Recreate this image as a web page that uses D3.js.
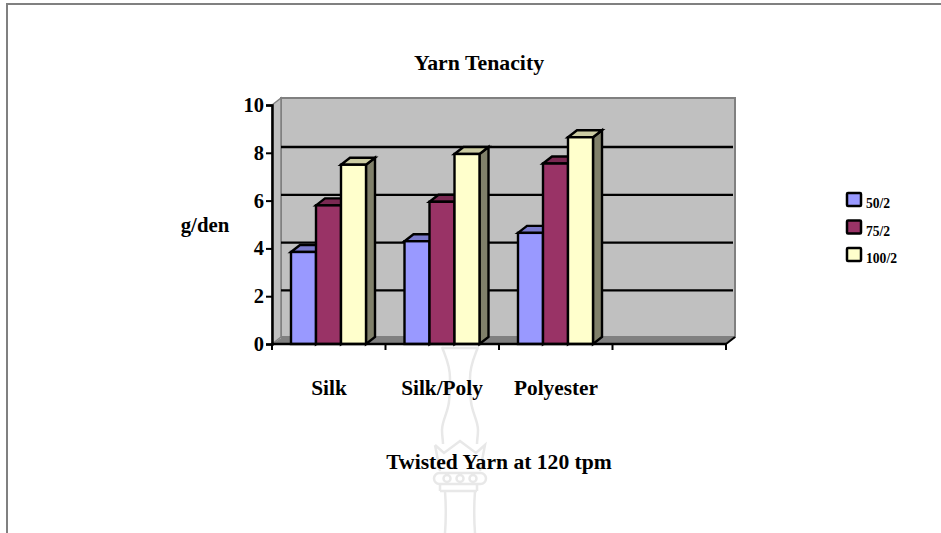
<!DOCTYPE html>
<html><head><meta charset="utf-8">
<script src="https://cdn.jsdelivr.net/npm/d3@7/dist/d3.min.js"></script>
<style>html,body{margin:0;padding:0;background:#fff}svg{display:block}text{font-family:"Liberation Serif",serif;font-weight:bold;fill:#000}</style>
</head><body><div id="c"></div>
<script>
const categories=["Silk","Silk/Poly","Polyester",""];
const seriesNames=["50/2","75/2","100/2"];
const values502=[3.85,4.3,4.65];
const values752=[5.8,5.95,7.55];
const values1002=[7.5,7.95,8.65];
const seriesValues=[values502,values752,values1002];
const yTicks=[0,2,4,6,8,10];
const colors=["#9999ff","#993366","#ffffcc"];
const topColors=["#7a7acc","#7a2952","#ccccA3"];
const sideColor="#80806a";

const svg=d3.select("#c").append("svg").attr("width",941).attr("height",533);
const dx=9,dy=7;
const x=d3.scaleBand().domain(categories).range([272,726]);
const y=d3.scaleLinear().domain([0,10]).range([344,105]);
const inner=d3.scaleBand().domain(d3.range(3)).range([19,94]);

// page border
svg.append("path").attr("d","M7,533V4H941").attr("fill","none").attr("stroke","#808080").attr("stroke-width",2);

// watermark
const wm=svg.append("g").attr("fill","none").attr("stroke","#e8e8e8").attr("stroke-width",2.5);
wm.append("path").attr("d","M442,347C446,358 450,365 450,378C450,392 450,400 448,407C446,416 442,422 442,430C442,436 443,440 443,444M478,347C474,358 470,365 470,378C470,392 470,400 472,407C474,416 478,422 478,430C478,436 477,440 477,444");
wm.append("path").attr("d","M442,348H478");
wm.append("path").attr("d","M435,445L444,453L460,441L476,453L485,445L480,471M440,471L435,445");
wm.append("rect").attr("x",434).attr("y",473).attr("width",52).attr("height",11).attr("rx",5.5);
wm.append("path").attr("d","M440,491H477M440,484V491M477,484V491M445,491C446,505 446,520 445,533M475,491C474,505 474,520 475,533");
wm.selectAll("circle").data([447,460,473]).join("circle").attr("cx",d=>d).attr("cy",478.5).attr("r",3.5);

// back wall, side wall and floor
svg.append("path").attr("d",`M${x.range()[0]+dx},${y(0)-dy}V${y(10)-dy}H${x.range()[1]+dx}V${y(0)-dy}Z`).attr("fill","#c0c0c0").attr("stroke","#808080").attr("stroke-width",2);
svg.append("path").attr("d",`M${x.range()[0]},${y(0)}V${y(10)}L${x.range()[0]+dx},${y(10)-dy}V${y(0)-dy}Z`).attr("fill","#c0c0c0").attr("stroke","#808080").attr("stroke-width",1.5);
svg.append("path").attr("d",`M${x.range()[0]},${y(0)}L${x.range()[0]+dx},${y(0)-dy+1}H${x.range()[1]+dx}L${x.range()[1]},${y(0)}Z`).attr("fill","#808080");

// gridlines on back wall
svg.selectAll(".grid").data(yTicks.filter(d=>d>0&&d<10)).join("line")
 .attr("x1",x.range()[0]+dx).attr("x2",x.range()[1]+dx-2)
 .attr("y1",d=>y(d)-dy+1.2).attr("y2",d=>y(d)-dy+1.2).attr("stroke","#000").attr("stroke-width",2.3);

// bars
categories.slice(0,3).forEach((c,i)=>{
 [0,1,2].forEach(s=>{
  const v=seriesValues[s][i];
  const x0=x(c)+inner(s),w=inner.bandwidth(),t=y(v),b=y(0);
  const g=svg.append("g").attr("stroke","#000").attr("stroke-width",2.4).attr("stroke-linejoin","miter");
  g.append("path").attr("d",`M${x0+w},${b}L${x0+w+dx},${b-dy}V${t-dy}L${x0+w},${t}Z`).attr("fill",s==2?sideColor:topColors[s]);
  g.append("path").attr("d",`M${x0},${t}L${x0+dx},${t-dy}H${x0+w+dx}L${x0+w},${t}Z`).attr("fill",topColors[s]);
  g.append("rect").attr("x",x0).attr("y",t).attr("width",w).attr("height",b-t).attr("fill",colors[s]);
 });
});

// axes
const ya=svg.append("g").attr("transform","translate(272,0)").call(d3.axisLeft(y).tickValues(yTicks).tickSize(6).tickPadding(2));
ya.select(".domain").attr("stroke","#000").attr("stroke-width",2.5);
ya.selectAll(".tick line").attr("stroke","#000").attr("stroke-width",2);
ya.selectAll("text").style("font-size","20.5px").style("font-family","Liberation Serif").style("font-weight","bold");
const xa=svg.append("g");
xa.append("line").attr("x1",271).attr("x2",x.range()[1]).attr("y1",y(0)).attr("y2",y(0)).attr("stroke","#000").attr("stroke-width",2.5);
xa.selectAll("line.t").data(d3.range(5)).join("line").attr("class","t")
 .attr("x1",d=>272+d*x.step()).attr("x2",d=>272+d*x.step()).attr("y1",y(0)).attr("y2",y(0)+6).attr("stroke","#000").attr("stroke-width",2);
svg.append("line").attr("x1",x.range()[1]).attr("y1",y(0)).attr("x2",x.range()[1]+dx).attr("y2",y(0)-dy).attr("stroke","#000").attr("stroke-width",2);

// category labels
const labelX=[329,442,556];
svg.selectAll(".cat").data(categories.slice(0,3)).join("text").attr("class","cat")
 .attr("x",(d,i)=>labelX[i]).attr("y",395).attr("text-anchor","middle").style("font-size","21.3px").text(d=>d);

// titles
svg.append("text").attr("x",479).attr("y",70).attr("text-anchor","middle").style("font-size","21.8px").text("Yarn Tenacity");
svg.append("text").attr("x",205).attr("y",232).attr("text-anchor","middle").style("font-size","20.8px").text("g/den");
svg.append("text").attr("x",499).attr("y",469).attr("text-anchor","middle").style("font-size","21.6px").text("Twisted Yarn at 120 tpm");

// legend
const lg=svg.selectAll(".lg").data(seriesNames).join("g").attr("class","lg").attr("transform",(d,i)=>`translate(847,${193+i*27.5})`);
lg.append("rect").attr("width",14).attr("height",13).attr("rx",1).attr("fill",(d,i)=>colors[i]).attr("stroke","#000").attr("stroke-width",2.5);
lg.append("text").attr("x",19).attr("y",15).style("font-size","13.6px").text(d=>d);
</script></body></html>
